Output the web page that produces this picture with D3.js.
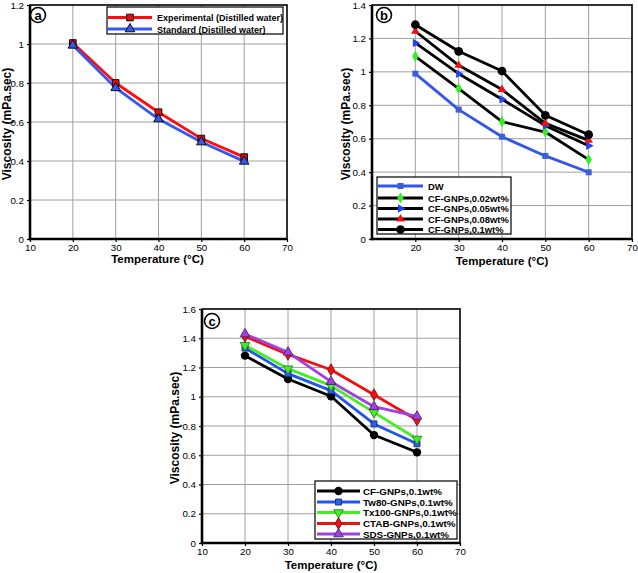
<!DOCTYPE html>
<html><head><meta charset="utf-8">
<script src="https://cdn.jsdelivr.net/npm/d3@7"></script>
<style>body{margin:0;background:#fff}svg{display:block}text{font-family:"Liberation Sans",Arial,sans-serif}</style>
</head><body>
<script>
const temps = [20, 30, 40, 50, 60];
// Panel a
const aNames = ["Experimental (Distilled water)", "Standard (Distilled water)"];
const aExperimental = [1.005, 0.80, 0.65, 0.515, 0.42];
const aStandard = [0.993, 0.775, 0.615, 0.497, 0.398];
// Panel b
const bNames = ["DW", "CF-GNPs,0.02wt%", "CF-GNPs,0.05wt%", "CF-GNPs,0.08wt%", "CF-GNPs,0.1wt%"];
const bDW = [0.989, 0.774, 0.612, 0.497, 0.399];
const b002 = [1.093, 0.900, 0.702, 0.640, 0.475];
const b005 = [1.173, 0.989, 0.836, 0.678, 0.558];
const b008 = [1.243, 1.039, 0.894, 0.692, 0.590];
const b01 = [1.282, 1.123, 1.005, 0.740, 0.624];
// Panel c
const cNames = ["CF-GNPs,0.1wt%", "Tw80-GNPs,0.1wt%", "Tx100-GNPs,0.1wt%", "CTAB-GNPs,0.1wt%", "SDS-GNPs,0.1wt%"];
const cCF = [1.281, 1.121, 1.003, 0.738, 0.620];
const cTw80 = [1.333, 1.158, 1.042, 0.814, 0.679];
const cTx100 = [1.352, 1.192, 1.076, 0.893, 0.711];
const cCTAB = [1.413, 1.290, 1.185, 1.014, 0.841];
const cSDS = [1.429, 1.304, 1.103, 0.932, 0.866];

const xTicksA = [10, 20, 30, 40, 50, 60, 70];
const xTicksB = [20, 30, 40, 50, 60, 70];
const yTicksA = [0, 0.2, 0.4, 0.6, 0.8, 1, 1.2];
const yTicksB = [0, 0.2, 0.4, 0.6, 0.8, 1, 1.2, 1.4];
const yTicksC = [0, 0.2, 0.4, 0.6, 0.8, 1, 1.2, 1.4, 1.6];

const svg = d3.select("body").append("svg").attr("width", 638).attr("height", 573);

function panel(o) {
  const x = d3.scaleLinear().domain([10, 70]).range([o.x0, o.x1]);
  const y = d3.scaleLinear().domain([0, o.ymax]).range([o.y1, o.y0]);
  const g = svg.append("g");
  // grid
  g.selectAll(".gx").data(o.xt.filter(v => v > 10 && v < 70)).join("line")
    .attr("x1", d => x(d)).attr("x2", d => x(d)).attr("y1", o.y0).attr("y2", o.y1)
    .attr("stroke", "#a0a0a0").attr("stroke-width", 1);
  g.selectAll(".gy").data(o.yt.filter(v => v > 0 && v < o.ymax)).join("line")
    .attr("y1", d => y(d)).attr("y2", d => y(d)).attr("x1", o.x0).attr("x2", o.x1)
    .attr("stroke", "#a0a0a0").attr("stroke-width", 1);
  // axes
  const fmt = d => String(+d.toFixed(1));
  const ax = g.append("g").attr("transform", `translate(0,${o.y1})`)
    .call(d3.axisBottom(x).tickValues(o.xt).tickSize(3).tickPadding(2).tickFormat(fmt));
  const ay = g.append("g").attr("transform", `translate(${o.x0},0)`)
    .call(d3.axisLeft(y).tickValues(o.yt).tickSize(3).tickPadding(3).tickFormat(fmt));
  [ax, ay].forEach(a => {
    a.select(".domain").remove();
    a.selectAll("line").attr("stroke", "#000").attr("stroke-width", 1.2);
    a.selectAll("text").attr("font-size", 9.8).attr("fill", "#000")
      .attr("font-family", '"Liberation Sans",Arial,sans-serif');
  });
  // frame
  g.append("rect").attr("x", o.x0).attr("y", o.y0).attr("width", o.x1 - o.x0).attr("height", o.y1 - o.y0)
    .attr("fill", "none").attr("stroke", "#000").attr("stroke-width", 1.6);
  g.append("line").attr("x1", o.x0).attr("x2", o.x0).attr("y1", o.y0).attr("y2", o.y1 + 1.2)
    .attr("stroke", "#000").attr("stroke-width", 2.6);
  g.append("line").attr("x1", o.x0 - 1.2).attr("x2", o.x1).attr("y1", o.y1).attr("y2", o.y1)
    .attr("stroke", "#000").attr("stroke-width", 2.6);
  // titles
  g.append("text").attr("x", (o.x0 + o.x1) / 2 + o.xtdx).attr("y", o.y1 + o.xtdy)
    .attr("text-anchor", "middle").attr("font-size", 11.5).attr("font-weight", "bold").text("Temperature (°C)");
  g.append("text").attr("transform", `translate(${o.ytx},${(o.y0 + o.y1) / 2 + 2}) rotate(-90)`)
    .attr("text-anchor", "middle").attr("font-size", 12).attr("font-weight", "bold").text("Viscosity (mPa.sec)");
  // series
  const line = d3.line().x((d, i) => x(temps[i])).y(d => y(d));
  o.series.forEach(s => {
    g.append("path").datum(s.v).attr("d", line).attr("fill", "none")
      .attr("stroke", s.lc).attr("stroke-width", 2.8).attr("stroke-linejoin", "round");
  });
  o.series.forEach(s => {
    g.selectAll(null).data(s.v).join("path")
      .attr("transform", (d, i) => `translate(${x(temps[i])},${y(d)}) rotate(${s.rot || 0})`)
      .attr("d", d3.symbol().type(s.sym).size(s.size))
      .attr("fill", s.mc).attr("stroke", s.ms || "none").attr("stroke-width", 0.9);
  });
  // legend
  const L = o.leg;
  const lg = g.append("g");
  lg.append("rect").attr("x", L.x).attr("y", L.y).attr("width", L.w).attr("height", L.h)
    .attr("fill", "#fff").attr("stroke", "#000").attr("stroke-width", 1.2);
  o.series.slice().sort((a, b) => a.li - b.li).forEach((s, k) => {
    const yy = L.rows[k];
    lg.append("line").attr("x1", L.l0).attr("x2", L.l1).attr("y1", yy).attr("y2", yy)
      .attr("stroke", s.lc).attr("stroke-width", 2.8);
    lg.append("path").attr("transform", `translate(${(L.l0 + L.l1) / 2},${yy}) rotate(${s.rot || 0})`)
      .attr("d", d3.symbol().type(s.sym).size(s.size))
      .attr("fill", s.mc).attr("stroke", s.ms || "none").attr("stroke-width", 0.9);
    lg.append("text").attr("x", L.tx).attr("y", yy + 3.5).attr("font-size", L.fs).attr("font-weight", "bold")
      .text(s.name);
  });
  // panel label
  g.append("circle").attr("cx", o.lab[0]).attr("cy", o.lab[1]).attr("r", 7.5)
    .attr("fill", "#fff").attr("stroke", "#000").attr("stroke-width", 1.6);
  g.append("text").attr("x", o.lab[0]).attr("y", o.lab[1] + 4.5).attr("text-anchor", "middle")
    .attr("font-size", 13).attr("font-weight", "bold").text(o.label);
}

panel({
  x0: 30, x1: 287, y0: 5, y1: 239, ymax: 1.2, xt: xTicksA, yt: yTicksA, ytx: 11, xtdx: -1, xtdy: 23.5, label: "a", lab: [38, 15],
  series: [
    { name: aNames[0], v: aExperimental, lc: "#ff0d0d", mc: "#e01010", ms: "#000", sym: d3.symbolSquare, size: 45, li: 0 },
    { name: aNames[1], v: aStandard, lc: "#3658f0", mc: "#3658f0", ms: "#000", sym: d3.symbolTriangle, size: 40, li: 1 }
  ],
  leg: { x: 107, y: 7, w: 176, h: 27, rows: [17.5, 29], l0: 108, l1: 152, tx: 157, fs: 9 }
});

panel({
  x0: 372, x1: 632, y0: 5, y1: 239, ymax: 1.4, xt: xTicksB, yt: yTicksB, ytx: 350, xtdx: 0, xtdy: 26, label: "b", lab: [384, 15],
  series: [
    { name: bNames[0], v: bDW, lc: "#3355ee", mc: "#3a5fd8", sym: d3.symbolSquare, size: 36, li: 0 },
    { name: bNames[1], v: b002, lc: "#000", mc: "#33ee22", sym: d3.symbolDiamond, size: 36, li: 1 },
    { name: bNames[2], v: b005, lc: "#000", mc: "#2244ee", sym: d3.symbolTriangle, size: 32, rot: 90, li: 2 },
    { name: bNames[3], v: b008, lc: "#000", mc: "#ee1111", sym: d3.symbolTriangle, size: 32, li: 3 },
    { name: bNames[4], v: b01, lc: "#000", mc: "#000", sym: d3.symbolCircle, size: 60, li: 4 }
  ],
  leg: { x: 377, y: 177, w: 134, h: 57, rows: [186, 198, 208.5, 219, 229.5], l0: 378, l1: 423, tx: 428, fs: 9.4 }
});

panel({
  x0: 202, x1: 460, y0: 309, y1: 543, ymax: 1.6, xt: xTicksA, yt: yTicksC, ytx: 179, xtdx: 0, xtdy: 26, label: "c", lab: [212, 321],
  series: [
    { name: cNames[0], v: cCF, lc: "#000", mc: "#000", sym: d3.symbolCircle, size: 55, li: 0 },
    { name: cNames[1], v: cTw80, lc: "#2255ee", mc: "#2a5fe8", ms: "#1a2a80", sym: d3.symbolSquare, size: 36, li: 1 },
    { name: cNames[2], v: cTx100, lc: "#44ee22", mc: "#44ee22", ms: "#228822", sym: d3.symbolTriangle, size: 40, rot: 180, li: 2 },
    { name: cNames[3], v: cCTAB, lc: "#ee1111", mc: "#ee1111", ms: "#801010", sym: d3.symbolDiamond, size: 40, li: 3 },
    { name: cNames[4], v: cSDS, lc: "#a040e0", mc: "#a040e0", ms: "#502070", sym: d3.symbolTriangle, size: 40, li: 4 }
  ],
  leg: { x: 315, y: 481, w: 142, h: 58, rows: [491, 502, 512.5, 523.5, 534], l0: 317, l1: 360, tx: 363, fs: 9.8 }
});
</script>
</body></html>
